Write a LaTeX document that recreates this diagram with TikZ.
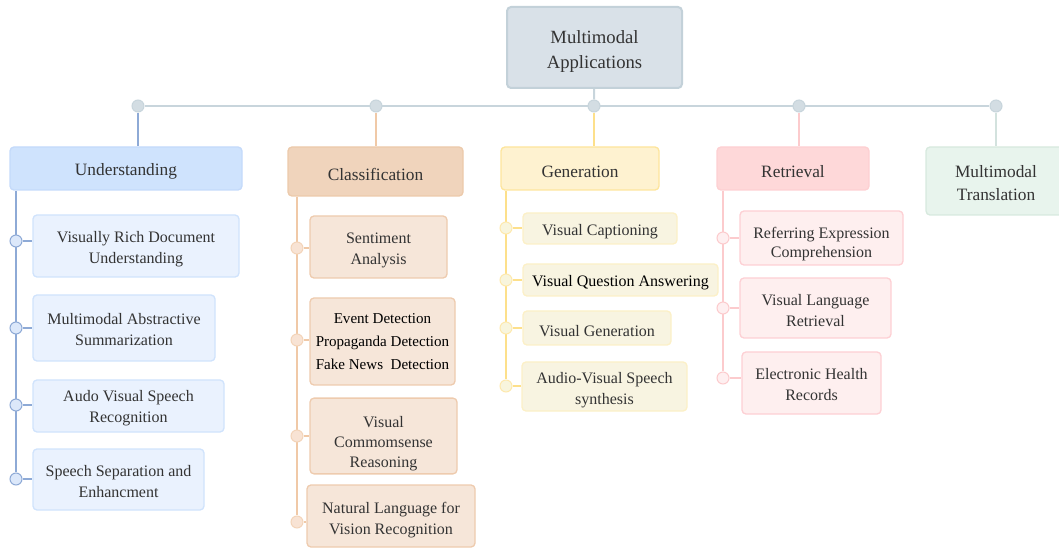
\documentclass[tikz,border=0pt]{standalone}
\usepackage{fontspec}
\setmainfont{Liberation Serif}
\usepackage{tikz}
\usetikzlibrary{positioning,backgrounds,calc}
\definecolor{textgray}{HTML}{333333}
\definecolor{rootfill}{HTML}{D9E1E8}
\definecolor{rootline}{HTML}{C3D1D9}
\definecolor{busline}{HTML}{C8D5DC}
\definecolor{busdot}{HTML}{D3DDE3}
\definecolor{ufill}{HTML}{CFE3FD}
\definecolor{uline}{HTML}{C4DAFA}
\definecolor{ustem}{HTML}{8EAAD6}
\definecolor{uleaf}{HTML}{EAF2FE}
\definecolor{uleafline}{HTML}{D0E3FC}
\definecolor{udot}{HTML}{DCE8FA}
\definecolor{cfill}{HTML}{F0D4BC}
\definecolor{cline}{HTML}{ECCAAB}
\definecolor{cstem}{HTML}{F0C9A7}
\definecolor{cleaf}{HTML}{F6E6D9}
\definecolor{cleafline}{HTML}{EECBAE}
\definecolor{cdot}{HTML}{F8E3D4}
\definecolor{gfill}{HTML}{FEF2D0}
\definecolor{gline}{HTML}{FDE59C}
\definecolor{gstem}{HTML}{FDE08B}
\definecolor{gleaf}{HTML}{F8F4E1}
\definecolor{gleafline}{HTML}{FCF0C7}
\definecolor{gdot}{HTML}{F8F5DD}
\definecolor{rfill}{HTML}{FED8D9}
\definecolor{rline}{HTML}{FDD0D2}
\definecolor{rstem}{HTML}{FCCBCD}
\definecolor{rleaf}{HTML}{FEEFEF}
\definecolor{rleafline}{HTML}{FDD0D4}
\definecolor{rdot}{HTML}{FEEFF0}
\definecolor{tfill}{HTML}{E8F4ED}
\definecolor{tline}{HTML}{D7E9DE}
\definecolor{tstem}{HTML}{D3E2DE}
% strut that pushes a first line down
\newcommand{\lift}[1]{\rule{0pt}{#1}}
\tikzset{
    x=0.75pt, y=-0.75pt,
    box/.style={draw, rounded corners=3pt, line width=1pt, align=center, text=textgray, inner sep=2pt,
        execute at begin node={\rule{0pt}{1.05em}}},
    sz/.style 2 args={minimum width=#1*0.75pt, minimum height=#2*0.75pt},
    head/.style={box, font=\fontsize{13}{17}\selectfont},
    leaf/.style={box, font=\fontsize{12}{15.75}\selectfont},
    joint/.style={circle, draw, line width=0.8pt, minimum size=9pt, inner sep=0pt},
    stem/.style={line width=1.5pt},
    bus/.style={line width=1.9pt, busline}
}
\begin{document}
\begin{tikzpicture}
        \useasboundingbox (0,0) rectangle (1059,548);
        \begin{scope}
        \clip (0,0) rectangle (1059,548);
        % Root and the bus
        \node[box, fill=rootfill, draw=rootline, line width=1.5pt, sz={175}{81}, font=\fontsize{14}{18.75}\selectfont] (root) at (594.5,47.5) {\lift{15.6pt}Multimodal\\Applications};
        \node[joint, fill=busdot, draw=busline] (b1) at (138,106) {};
        \node[joint, fill=busdot, draw=busline] (b2) at (376,106) {};
        \node[joint, fill=busdot, draw=busline] (b3) at (594,106) {};
        \node[joint, fill=busdot, draw=busline] (b4) at (799,106) {};
        \node[joint, fill=busdot, draw=busline] (b5) at (996,106) {};
        % Main categories
        \node[head, fill=ufill, draw=uline, sz={232}{43}] (understanding) at (126,168.5) {Understanding};
        \node[head, fill=cfill, draw=cline, sz={175}{49}] (classification) at (375.5,171.5) {Classification};
        \node[head, fill=gfill, draw=gline, sz={158}{43}] (generation) at (580,168.5) {Generation};
        \node[head, fill=rfill, draw=rline, sz={152}{43}] (retrieval) at (793,168.5) {Retrieval};
        \node[head, fill=tfill, draw=tline, sz={140}{68}] (translation) at (996,181) {\lift{11.9pt}Multimodal\\Translation};
        % Understanding leaves
        \node[leaf, fill=uleaf, draw=uleafline, sz={206}{62}] (vrdu) at (136,246) {\lift{12.7pt}Visually Rich Document\\Understanding};
        \node[leaf, fill=uleaf, draw=uleafline, sz={182}{66}] (mas) at (124,328) {\lift{11.2pt}Multimodal Abstractive\\Summarization};
        \node[leaf, fill=uleaf, draw=uleafline, sz={191}{52}] (avsr) at (128.5,406) {\lift{11.2pt}Audo Visual Speech\\Recognition};
        \node[leaf, fill=uleaf, draw=uleafline, sz={171}{61}] (sse) at (118.5,479.5) {\lift{11.2pt}Speech Separation and\\Enhancment};
        \node[joint, fill=udot, draw=ustem] (u1) at (16,241) {};
        \node[joint, fill=udot, draw=ustem] (u2) at (16,328) {};
        \node[joint, fill=udot, draw=ustem] (u3) at (16,405) {};
        \node[joint, fill=udot, draw=ustem] (u4) at (16,479) {};
        % Classification leaves
        \node[leaf, fill=cleaf, draw=cleafline, sz={137}{62}] (sentiment) at (378.5,247) {\lift{13.4pt}Sentiment\\Analysis};
        \node[leaf, fill=cleaf, draw=cleafline, sz={145}{87}, text=black, font=\fontsize{11.3}{17}\selectfont] (event) at (382.5,341.5) {Event Detection\\Propaganda Detection\\Fake News\ \ Detection};
        \node[leaf, fill=cleaf, draw=cleafline, sz={147}{74}, font=\fontsize{12}{15}\selectfont] (vcr) at (383.5,436) {\lift{20.2pt}Visual\\Commomsense\\Reasoning};
        \node[leaf, fill=cleaf, draw=cleafline, sz={168}{62}] (nlvr) at (391,516) {\lift{15pt}Natural Language for\\Vision Recognition};
        \node[joint, fill=cdot, draw=cstem!80] (c1) at (297,248) {};
        \node[joint, fill=cdot, draw=cstem!80] (c2) at (297,340) {};
        \node[joint, fill=cdot, draw=cstem!80] (c3) at (297,436) {};
        \node[joint, fill=cdot, draw=cstem!80] (c4) at (297,522) {};
        % Generation leaves
        \node[leaf, fill=gleaf, draw=gleafline, sz={154}{31}] (captioning) at (600,228.5) {Visual Captioning};
        \node[leaf, fill=gleaf, draw=gleafline, sz={195}{32}, text=black] (vqa) at (620.5,280) {Visual Question Answering};
        \node[leaf, fill=gleaf, draw=gleafline, sz={148}{34}] (visgen) at (597,328) {Visual Generation};
        \node[leaf, fill=gleaf, draw=gleafline, sz={165}{49}] (avss) at (604.5,386.5) {\lift{13.4pt}Audio-Visual Speech\\synthesis};
        \node[joint, fill=gdot, draw=gstem!70] (g1) at (506,228) {};
        \node[joint, fill=gdot, draw=gstem!70] (g2) at (506,280) {};
        \node[joint, fill=gdot, draw=gstem!70] (g3) at (506,328) {};
        \node[joint, fill=gdot, draw=gstem!70] (g4) at (506,386) {};
        % Retrieval leaves
        \node[leaf, fill=rleaf, draw=rleafline, sz={163}{54}] (rec) at (821.5,238) {\lift{18pt}Referring Expression\\[-1.5pt]Comprehension};
        \node[leaf, fill=rleaf, draw=rleafline, sz={151}{60}] (vlr) at (815.5,308) {\lift{12.7pt}Visual Language\\Retrieval};
        \node[leaf, fill=rleaf, draw=rleafline, sz={139}{62}] (ehr) at (811.5,383) {\lift{11.2pt}Electronic Health\\Records};
        \node[joint, fill=rdot, draw=rstem] (r1) at (723,238) {};
        \node[joint, fill=rdot, draw=rstem] (r2) at (723,308) {};
        \node[joint, fill=rdot, draw=rstem] (r3) at (723,378) {};
        % Connectors go behind the boxes
        \begin{pgfonlayer}{background}
            \draw[bus] (b1) -- (b5);
            \draw[bus, line width=1.5pt] (root) -- (b3);
            \draw[stem, ustem] (b1) -- (b1 |- understanding.north);
            \draw[stem, cstem] (b2) -- (b2 |- classification.north);
            \draw[stem, gstem] (b3) -- (b3 |- generation.north);
            \draw[stem, rstem] (b4) -- (b4 |- retrieval.north);
            \draw[stem, tstem] (b5) -- (b5 |- translation.north);
            % Trunks
            \draw[stem, ustem] (u1 |- understanding.south) -- (u4);
            \draw[stem, cstem] (c1 |- classification.south) -- (c4);
            \draw[stem, gstem] (g1 |- generation.south) -- (g4);
            \draw[stem, rstem] (r1 |- retrieval.south) -- (r3);
            % Twigs
            \foreach \d/\l in {u1/vrdu, u2/mas, u3/avsr, u4/sse}
                \draw[stem, ustem] (\d) -- (\d -| \l.west);
            \foreach \d/\l in {c1/sentiment, c2/event, c3/vcr, c4/nlvr}
                \draw[stem, cstem] (\d) -- (\d -| \l.west);
            \foreach \d/\l in {g1/captioning, g2/vqa, g3/visgen, g4/avss}
                \draw[stem, gstem] (\d) -- (\d -| \l.west);
            \foreach \d/\l in {r1/rec, r2/vlr, r3/ehr}
                \draw[stem, rstem] (\d) -- (\d -| \l.west);
        \end{pgfonlayer}
        \end{scope}
    \end{tikzpicture}
\end{document}
